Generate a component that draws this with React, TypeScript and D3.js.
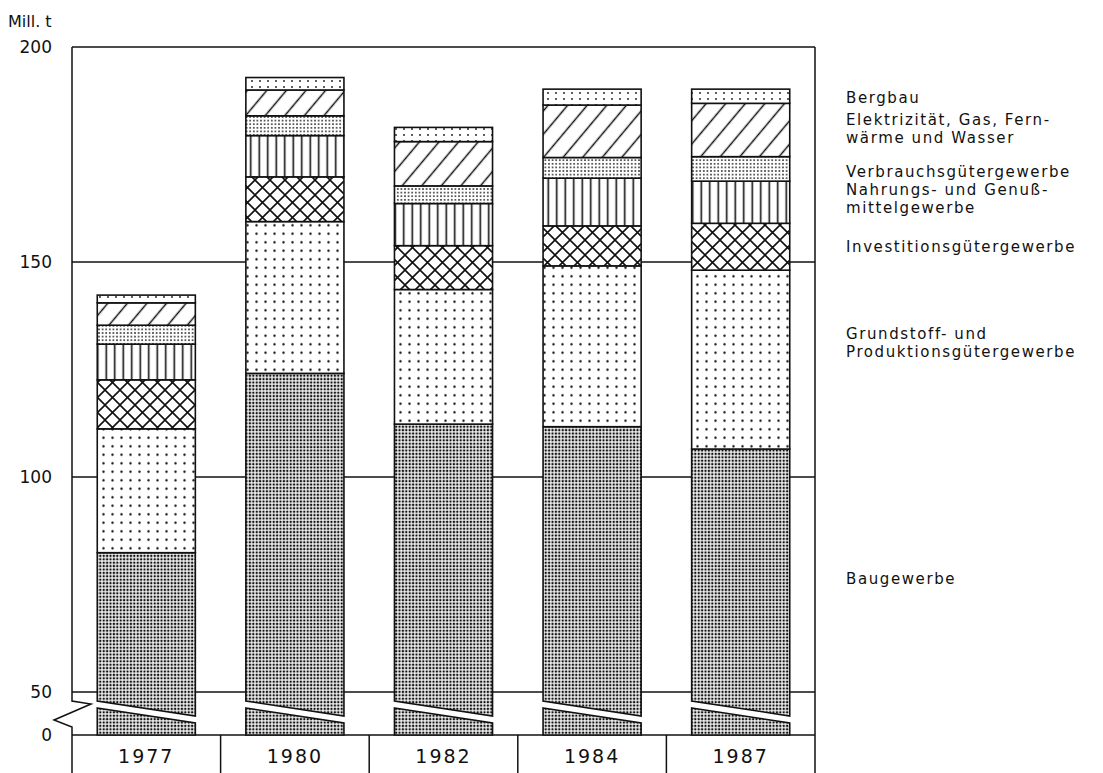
import React from 'react';
import * as d3 from 'd3';

const years = ['1977', '1980', '1982', '1984', '1987'];
const seriesKeys = ['bau', 'grund', 'invest', 'nahrung', 'verbrauch', 'elektro', 'bergbau'];
const bau = [82.4, 124.1, 112.3, 111.7, 106.5];
const grund = [28.8, 35.3, 31.3, 37.4, 41.6];
const invest = [11.4, 10.4, 10.2, 9.3, 10.9];
const nahrung = [8.3, 9.6, 9.8, 11.1, 9.8];
const verbrauch = [4.4, 4.6, 4.1, 4.8, 5.7];
const elektro = [5.2, 6.0, 10.3, 12.2, 12.4];
const bergbau = [1.8, 2.9, 3.3, 3.7, 3.3];
const yTicks = [0, 50, 100, 150, 200];
const gridTicks = [50, 100, 150];
const unitLabel = 'Mill. t';
const legendLabels: Record<string, string[]> = {
  bergbau: ['Bergbau'],
  elektro: ['Elektrizität, Gas, Fern-', 'wärme und Wasser'],
  verbrauch: ['Verbrauchsgütergewerbe'],
  nahrung: ['Nahrungs- und Genuß-', 'mittelgewerbe'],
  invest: ['Investitionsgütergewerbe'],
  grund: ['Grundstoff- und', 'Produktionsgütergewerbe'],
  bau: ['Baugewerbe'],
};

const W = 1103;
const H = 773;
const LEFT = 72;
const RIGHT = 815;
const TOP = 47;
const BOTTOM = 773;
const INK = '#111';
const FONT = '"DejaVu Sans", "Liberation Sans", sans-serif';

const legendBaseline: Record<string, number> = {
  bergbau: 103,
  elektro: 125,
  verbrauch: 177,
  nahrung: 195,
  invest: 252,
  grund: 339,
  bau: 584,
};
const LINE_STEP = 18;

export default function App() {
  const table = years.map((yr, i) => ({
    year: yr,
    bau: bau[i],
    grund: grund[i],
    invest: invest[i],
    nahrung: nahrung[i],
    verbrauch: verbrauch[i],
    elektro: elektro[i],
    bergbau: bergbau[i],
  }));
  const stacked = d3.stack<any>().keys(seriesKeys)(table);

  const y = d3.scaleLinear().domain([0, 50, 200]).range([735, 692, 47]);
  const x = d3.scaleBand<string>().domain(years).range([LEFT, RIGHT]).paddingInner(0.34).paddingOuter(0.17);
  const cat = d3.scaleBand<string>().domain(years).range([LEFT, RIGHT]).padding(0);

  const y50 = y(50);
  const y0 = y(0);

  const fills: Record<string, string> = {
    bau: 'url(#p-bau)',
    grund: 'url(#p-grund)',
    invest: 'url(#p-invest)',
    nahrung: 'url(#p-nahrung)',
    verbrauch: 'url(#p-verbrauch)',
    elektro: 'url(#p-elektro)',
    bergbau: 'url(#p-bergbau)',
  };

  return (
    <div style={{ position: 'absolute', left: 0, top: 0, width: W, height: H }}>
      <svg width={W} height={H} viewBox={`0 0 ${W} ${H}`} style={{ display: 'block', background: '#fff' }}>
        <defs>
          <pattern id="p-bau" width="3.4" height="3.4" patternUnits="userSpaceOnUse">
            <rect width="3.4" height="3.4" fill="#fff" />
            <rect x="0.6" y="0.6" width="2.2" height="2.2" fill={INK} />
          </pattern>
          <pattern id="p-grund" width="9" height="8.5" patternUnits="userSpaceOnUse">
            <rect width="9" height="8.5" fill="#fff" />
            <circle cx="4.5" cy="4.25" r="1.2" fill={INK} />
          </pattern>
          <pattern id="p-invest" width="15" height="15" patternUnits="userSpaceOnUse">
            <rect width="15" height="15" fill="#fff" />
            <path d="M0,0 L15,15 M0,15 L15,0 M-1,1 L1,-1 M14,16 L16,14 M-1,14 L1,16 M14,-1 L16,1" stroke={INK} strokeWidth="1.6" />
          </pattern>
          <pattern id="p-nahrung" width="8.5" height="10" patternUnits="userSpaceOnUse">
            <rect width="8.5" height="10" fill="#fff" />
            <line x1="4.25" y1="0" x2="4.25" y2="10" stroke={INK} strokeWidth="1.6" />
          </pattern>
          <pattern id="p-verbrauch" width="3.6" height="3.6" patternUnits="userSpaceOnUse">
            <rect width="3.6" height="3.6" fill="#fff" />
            <circle cx="1.8" cy="1.8" r="0.85" fill={INK} />
          </pattern>
          <pattern id="p-elektro" width="15" height="10" patternUnits="userSpaceOnUse" patternTransform="rotate(40)">
            <rect width="15" height="10" fill="#fff" />
            <line x1="7.5" y1="-1" x2="7.5" y2="11" stroke={INK} strokeWidth="1.5" />
          </pattern>
          <pattern id="p-bergbau" width="8" height="6" patternUnits="userSpaceOnUse">
            <rect width="8" height="6" fill="#fff" />
            <circle cx="4" cy="3" r="0.9" fill={INK} />
          </pattern>
        </defs>

        {/* unit label */}
        <text x={8} y={27} fontFamily={FONT} fontSize={16} fill={INK}>{unitLabel}</text>

        {/* grid lines */}
        {gridTicks.map((t) => (
          <line key={t} x1={LEFT} x2={RIGHT} y1={y(t)} y2={y(t)} stroke={INK} strokeWidth={1.5} />
        ))}

        {/* frame */}
        <line x1={LEFT} x2={RIGHT} y1={y(200)} y2={y(200)} stroke={INK} strokeWidth={1.5} />
        <line x1={RIGHT} x2={RIGHT} y1={TOP} y2={BOTTOM} stroke={INK} strokeWidth={1.5} />
        <line x1={LEFT} x2={RIGHT} y1={y0} y2={y0} stroke={INK} strokeWidth={1.5} />
        <path
          d={`M${LEFT},${TOP} L${LEFT},${y50 + 9} L${LEFT + 19},${y50 + 12} L${LEFT - 18},${y50 + 28} L${LEFT},${y50 + 35} L${LEFT},${BOTTOM}`}
          fill="none"
          stroke={INK}
          strokeWidth={1.5}
          strokeLinejoin="miter"
        />
        {years.slice(1).map((yr) => (
          <line key={yr} x1={cat(yr)!} x2={cat(yr)!} y1={y0} y2={BOTTOM} stroke={INK} strokeWidth={1.5} />
        ))}

        {/* y tick labels */}
        {yTicks.map((t) => (
          <text key={t} x={52} y={y(t)} dy="0.35em" textAnchor="end" fontFamily={FONT} fontSize={17} fill={INK}>
            {t}
          </text>
        ))}

        {/* category labels */}
        {years.map((yr) => (
          <text
            key={yr}
            x={cat(yr)! + cat.bandwidth() / 2}
            y={756}
            dy="0.35em"
            textAnchor="middle"
            fontFamily={FONT}
            fontSize={19}
            letterSpacing={2}
            fill={INK}
          >
            {yr}
          </text>
        ))}

        {/* bars */}
        {stacked.map((layer) => (
          <g key={layer.key}>
            {layer.map((d, i) => {
              const x0 = x(years[i])!;
              const x1 = x0 + x.bandwidth();
              const top = y(d[1]);
              if (layer.key === 'bau') {
                const upper = `M${x0},${top} L${x1},${top} L${x1},${y50 + 24} L${x0},${y50 + 9} Z`;
                const lower = `M${x0},${y50 + 16} L${x1},${y50 + 31} L${x1},${y0} L${x0},${y0} Z`;
                return (
                  <g key={i}>
                    <path d={upper} fill={fills.bau} stroke={INK} strokeWidth={1.6} />
                    <path d={lower} fill={fills.bau} stroke={INK} strokeWidth={1.6} />
                  </g>
                );
              }
              const bot = y(d[0]);
              return (
                <rect
                  key={i}
                  x={x0}
                  y={top}
                  width={x1 - x0}
                  height={bot - top}
                  fill={fills[layer.key]}
                  stroke={INK}
                  strokeWidth={1.6}
                />
              );
            })}
          </g>
        ))}

        {/* legend labels */}
        {seriesKeys.map((k) => (
          <text key={k} fontFamily={FONT} fontSize={15} letterSpacing={1.6} fill={INK}>
            {legendLabels[k].map((line, j) => (
              <tspan key={j} x={846} y={legendBaseline[k] + j * LINE_STEP}>
                {line}
              </tspan>
            ))}
          </text>
        ))}
      </svg>
    </div>
  );
}
